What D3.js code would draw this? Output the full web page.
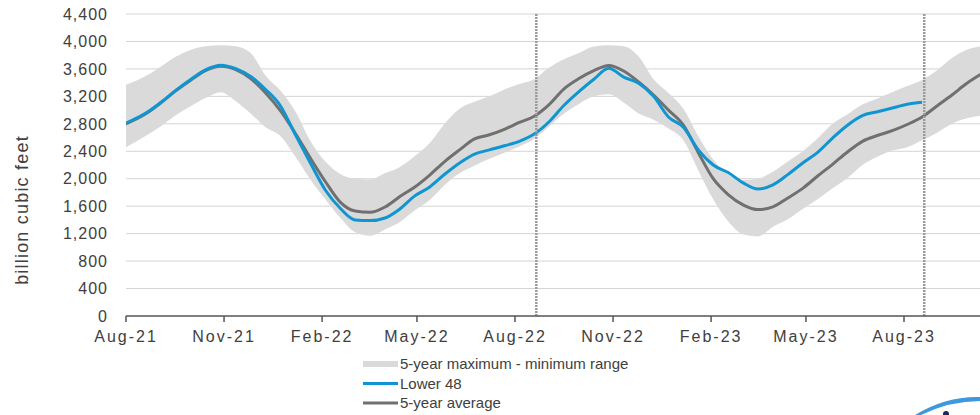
<!DOCTYPE html>
<html>
<head>
<meta charset="utf-8">
<script src="https://cdn.jsdelivr.net/npm/d3@7"></script>
<style>
  body { margin: 0; background: #fff; }
  svg { display: block; }
  text { font-family: "Liberation Sans", Arial, sans-serif; fill: #404040; }
</style>
</head>
<body>
<svg id="chart"></svg>
<script>
// data (billion cubic feet), two-weekly points
const weeks = [
  "2021-08-01", "2021-08-20", "2021-09-03", "2021-09-17", "2021-10-01", "2021-10-15", "2021-10-29",
  "2021-11-12", "2021-11-26", "2021-12-10", "2021-12-24",
  "2022-01-07", "2022-01-21", "2022-02-04", "2022-02-18", "2022-03-04", "2022-03-18", "2022-04-01",
  "2022-04-15", "2022-04-29", "2022-05-13", "2022-05-27", "2022-06-10", "2022-06-24", "2022-07-08",
  "2022-07-22", "2022-08-05", "2022-08-19", "2022-09-02", "2022-09-16", "2022-09-30", "2022-10-14",
  "2022-10-28", "2022-11-11", "2022-11-25", "2022-12-09", "2022-12-23",
  "2023-01-06", "2023-01-20", "2023-02-03", "2023-02-17", "2023-03-03", "2023-03-17", "2023-03-31",
  "2023-04-14", "2023-04-28", "2023-05-12", "2023-05-26", "2023-06-09", "2023-06-23", "2023-07-07",
  "2023-07-21", "2023-08-04", "2023-08-18", "2023-09-01", "2023-09-15", "2023-09-29", "2023-10-13"
];
const lower48 = [
  2810, 2960, 3115, 3290, 3450, 3590, 3655, 3605, 3490, 3300, 3060,
  2640, 2230, 1836, 1570, 1400, 1390, 1428, 1560, 1750, 1880, 2065, 2230, 2360, 2420,
  2480, 2545, 2650, 2830, 3070, 3270, 3450, 3610, 3480, 3390, 3200, 2900,
  2750, 2420, 2200, 2090, 1940, 1850, 1910, 2060, 2230, 2385, 2593, 2780, 2920, 2975,
  3030, 3085, 3115, null, null, null, null
];
const avg5 = [
  2800, 2950, 3110, 3285, 3440, 3580, 3640, 3590, 3460, 3250, 2990,
  2660, 2300, 1960, 1660, 1530, 1510, 1588, 1740, 1880, 2054, 2250, 2420, 2580, 2640,
  2720, 2820, 2910, 3080, 3310, 3460, 3575, 3650, 3570, 3410, 3220, 3000,
  2780, 2380, 2000, 1770, 1620, 1550, 1590, 1720, 1860, 2040, 2210, 2390, 2545, 2630,
  2700, 2790, 2900, 3060, 3220, 3390, 3530
];
const max5 = [
  3370, 3500, 3640, 3780, 3880, 3930, 3945, 3930, 3830, 3500, 3280,
  2980, 2550, 2250, 2070, 2000, 1990, 2080, 2170, 2330, 2520, 2800, 3020, 3120, 3200,
  3300, 3380, 3450, 3620, 3740, 3830, 3925, 3945, 3930, 3780, 3450, 3250,
  3020, 2620, 2280, 2060, 1980, 2000, 2100, 2250, 2400, 2590, 2800, 2940, 3080, 3170,
  3260, 3350, 3440, 3580, 3760, 3880, 3930
];
const min5 = [
  2460, 2630, 2770, 2930, 3060, 3180, 3260, 3130, 2950, 2750, 2620,
  2320, 1990, 1700, 1430, 1220, 1170, 1260, 1370, 1540, 1690, 1910, 2080, 2190, 2290,
  2380, 2470, 2580, 2760, 2950, 3090, 3200, 3230, 3110, 2950, 2860, 2730,
  2560, 2120, 1700, 1380, 1190, 1160, 1300, 1410, 1560, 1700, 1860, 2010, 2200, 2320,
  2410, 2460, 2560, 2670, 2800, 2880, 2920
];
const yTicks = [0, 400, 800, 1200, 1600, 2000, 2400, 2800, 3200, 3600, 4000, 4400];
const xTicks = ["2021-08-01", "2021-11-01", "2022-02-01", "2022-05-01", "2022-08-01",
                "2022-11-01", "2023-02-01", "2023-05-01", "2023-08-01"];
const markerDates = ["2022-08-21", "2023-08-20"];
const legendLabels = ["5-year maximum - minimum range", "Lower 48", "5-year average"];

const width = 980, height = 415;
const plotLeft = 126, plotTop = 14, plotBottom = 316;
const parse = d3.timeParse("%Y-%m-%d");

const svg = d3.select("#chart").attr("width", width).attr("height", height);

const x = d3.scaleTime()
  .domain([parse("2021-08-01"), parse("2023-08-01")])
  .range([126, 904]);
const y = d3.scaleLinear().domain([0, 4400]).range([plotBottom, plotTop]);

svg.append("defs").append("clipPath").attr("id", "plot")
  .append("rect").attr("x", plotLeft).attr("y", 0)
  .attr("width", width - plotLeft).attr("height", plotBottom);

// gridlines
svg.append("g").selectAll("line")
  .data(yTicks.slice(1))
  .enter().append("line")
  .attr("x1", plotLeft).attr("x2", width)
  .attr("y1", d => y(d)).attr("y2", d => y(d))
  .attr("stroke", "#d4d4d4").attr("stroke-width", 1);

// y labels
svg.append("g").selectAll("text")
  .data(yTicks)
  .enter().append("text")
  .attr("x", 108).attr("y", d => y(d)).attr("dy", "0.36em")
  .attr("text-anchor", "end")
  .style("font-size", "16px").style("letter-spacing", "1px")
  .text(d => d3.format(",")(d));

svg.append("text")
  .attr("transform", "translate(28,210) rotate(-90)")
  .attr("text-anchor", "middle")
  .style("font-size", "18px").style("letter-spacing", "1.2px")
  .text("billion cubic feet");

const rows = weeks.map((w, i) => ({
  date: parse(w), l48: lower48[i], avg: avg5[i], max: max5[i], min: min5[i]
}));

const plot = svg.append("g").attr("clip-path", "url(#plot)");

const band = d3.area()
  .x(d => x(d.date)).y0(d => y(d.min)).y1(d => y(d.max))
  .curve(d3.curveMonotoneX);
plot.append("path").datum(rows).attr("d", band).attr("fill", "#dadada");

const avgLine = d3.line()
  .x(d => x(d.date)).y(d => y(d.avg))
  .curve(d3.curveMonotoneX);
plot.append("path").datum(rows).attr("d", avgLine)
  .attr("fill", "none").attr("stroke", "#707070").attr("stroke-width", 3);

const l48Line = d3.line()
  .defined(d => d.l48 != null)
  .x(d => x(d.date)).y(d => y(d.l48))
  .curve(d3.curveMonotoneX);
plot.append("path").datum(rows).attr("d", l48Line)
  .attr("fill", "none").attr("stroke", "#0f96d2").attr("stroke-width", 3);

// dotted week markers
svg.append("g").selectAll("line")
  .data(markerDates)
  .enter().append("line")
  .attr("x1", d => x(parse(d))).attr("x2", d => x(parse(d)))
  .attr("y1", plotTop).attr("y2", plotBottom)
  .attr("stroke", "#9a9a9a").attr("stroke-width", 2.5)
  .attr("stroke-dasharray", "2,1");

// x axis
svg.append("line")
  .attr("x1", plotLeft).attr("x2", width).attr("y1", plotBottom).attr("y2", plotBottom)
  .attr("stroke", "#555").attr("stroke-width", 1.5);

const xt = svg.append("g").selectAll("g")
  .data(xTicks)
  .enter().append("g")
  .attr("transform", d => "translate(" + x(parse(d)) + ",0)");
xt.append("line").attr("y1", plotBottom).attr("y2", plotBottom + 6)
  .attr("stroke", "#555").attr("stroke-width", 1.5);
xt.append("text").attr("y", 342).attr("text-anchor", "middle")
  .style("font-size", "16px").style("letter-spacing", "2px")
  .text(d => d3.timeFormat("%b-%y")(parse(d)));

// legend
const lg = svg.append("g").selectAll("g")
  .data(legendLabels)
  .enter().append("g")
  .attr("transform", (d, i) => "translate(363," + (364 + i * 19.5) + ")");
lg.append("line")
  .attr("x1", 0).attr("x2", 35).attr("y1", 0).attr("y2", 0)
  .attr("stroke", (d, i) => ["#dadada", "#0f96d2", "#707070"][i])
  .attr("stroke-width", (d, i) => i === 0 ? 6 : 3);
lg.append("text").attr("x", 37).attr("dy", "0.36em")
  .style("font-size", "15px")
  .text(d => d);

// corner of the logo
svg.append("path")
  .attr("d", "M915,415 Q946,396 980,397 L980,401 Q950,401 921,415 Z")
  .attr("fill", "#3d98dc");
svg.append("circle").attr("cx", 946).attr("cy", 414).attr("r", 3).attr("fill", "#1b2a5a");
</script>
</body>
</html>
